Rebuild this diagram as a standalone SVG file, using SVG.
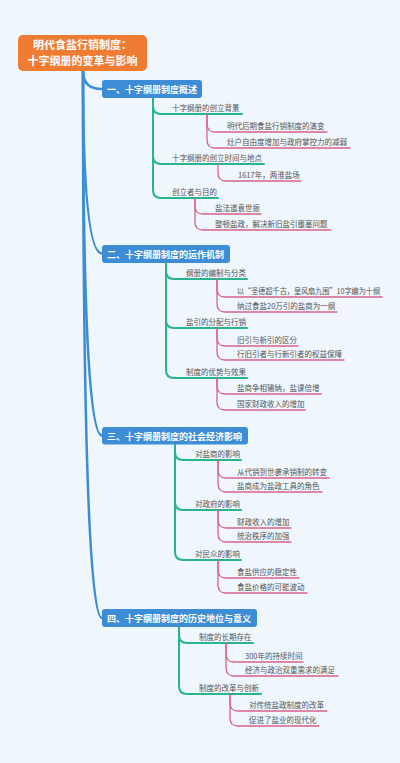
<svg xmlns="http://www.w3.org/2000/svg" width="400" height="763" viewBox="0 0 400 763">
<style>
.bg{fill:#eff6fc}
.root{fill:#f07c34}
.sec{fill:#3c8dd6}
.rt{font-family:"Noto Sans CJK SC","Noto Sans",sans-serif;font-size:11px;font-weight:bold;fill:#fff;text-anchor:middle}
.st{font-family:"Noto Sans CJK SC","Noto Sans",sans-serif;font-size:9px;font-weight:bold;fill:#fff}
.t{font-family:"Noto Sans CJK SC","Noto Sans",sans-serif;font-size:7.5px;fill:#555}
.b{fill:none;stroke:#3c8dd6;stroke-width:2.5;stroke-linecap:round}
.g{fill:none;stroke:#27b48f;stroke-width:2;stroke-linecap:round}
.p{fill:none;stroke:#d9628b;stroke-width:1.3;stroke-linecap:round}
</style>
<rect class="bg" x="0" y="0" width="400" height="763"/>
<g id="connectors">
<path class="b" d="M83 71 Q83 89 102 89"/>
<path class="b" d="M83 71 Q83 253.5 102 253.5"/>
<path class="b" d="M83 71 Q83 435.5 102 435.5"/>
<path class="b" d="M83 71 Q83 618 102 618"/>
<path class="g" d="M153 98 V106 Q153 114 161 114 H242"/>
<path class="g" d="M153 98 V156 Q153 164 161 164 H264"/>
<path class="g" d="M153 98 V190 Q153 198 161 198 H218"/>
<path class="p" d="M207 114 V124 Q207 132 215 132 H327"/>
<path class="p" d="M207 114 V140 Q207 148 215 148 H350"/>
<path class="p" d="M218 164 V173 Q218 181 226 181 H301"/>
<path class="p" d="M195 198 V206 Q195 214 203 214 H261"/>
<path class="p" d="M195 198 V222 Q195 230 203 230 H331"/>
<path class="g" d="M166 263 V271 Q166 279 174 279 H247"/>
<path class="g" d="M166 263 V320 Q166 328 174 328 H247"/>
<path class="g" d="M166 263 V370 Q166 378 174 378 H247"/>
<path class="p" d="M217 279 V289 Q217 297 225 297 H382"/>
<path class="p" d="M217 279 V304 Q217 312 225 312 H337"/>
<path class="p" d="M217 328 V338 Q217 346 225 346 H298"/>
<path class="p" d="M217 328 V352 Q217 360 225 360 H344"/>
<path class="p" d="M217 378 V386 Q217 394 225 394 H321"/>
<path class="p" d="M217 378 V402 Q217 410 225 410 H305"/>
<path class="g" d="M175 444 V452 Q175 460 183 460 H241"/>
<path class="g" d="M175 444 V502 Q175 510 183 510 H241"/>
<path class="g" d="M175 444 V552 Q175 560 183 560 H241"/>
<path class="p" d="M218 460 V470 Q218 478 226 478 H329"/>
<path class="p" d="M218 460 V484 Q218 492 226 492 H322"/>
<path class="p" d="M218 510 V520 Q218 528 226 528 H291"/>
<path class="p" d="M218 510 V534 Q218 542 226 542 H291"/>
<path class="p" d="M218 560 V570 Q218 578 226 578 H299"/>
<path class="p" d="M218 560 V585 Q218 593 226 593 H307"/>
<path class="g" d="M179 627 V635 Q179 643 187 643 H253"/>
<path class="g" d="M179 627 V686 Q179 694 187 694 H261"/>
<path class="p" d="M226 643 V654 Q226 662 234 662 H303"/>
<path class="p" d="M226 643 V668 Q226 676 234 676 H338"/>
<path class="p" d="M230 694 V703 Q230 711 238 711 H327"/>
<path class="p" d="M230 694 V718 Q230 726 238 726 H319"/>
</g>
<g id="root">
<rect class="root" x="18" y="35" width="129" height="36" rx="5"/>
<text class="rt" x="82.5" y="48.5">明代食盐行销制度：</text>
<text class="rt" x="82.5" y="64.5">十字纲册的变革与影响</text>
</g>
<g id="s1"><rect class="sec" x="102" y="80" width="100" height="18" rx="3"/><text class="st" x="107" y="92.5">一、十字纲册制度概述</text></g>
<g id="s2"><rect class="sec" x="102" y="245" width="128" height="18" rx="3"/><text class="st" x="107" y="257.5">二、十字纲册制度的运作机制</text></g>
<g id="s3"><rect class="sec" x="102" y="427" width="146" height="17.5" rx="3"/><text class="st" x="107" y="439.5">三、十字纲册制度的社会经济影响</text></g>
<g id="s4"><rect class="sec" x="102" y="609" width="155" height="18" rx="3"/><text class="st" x="107" y="621.5">四、十字纲册制度的历史地位与意义</text></g>
<g id="n1a"><text class="t" x="172" y="111">十字纲册的创立背景</text></g>
<g id="n1a1"><text class="t" x="227" y="129">明代后期食盐行销制度的演变</text></g>
<g id="n1a2"><text class="t" x="227" y="145">灶户自由度增加与政府掌控力的减弱</text></g>
<g id="n1b"><text class="t" x="172" y="161">十字纲册的创立时间与地点</text></g>
<g id="n1b1"><text class="t" x="238" y="178">1617年，两淮盐场</text></g>
<g id="n1c"><text class="t" x="172" y="195">创立者与目的</text></g>
<g id="n1c1"><text class="t" x="215" y="211">盐法道袁世振</text></g>
<g id="n1c2"><text class="t" x="215" y="227">整顿盐政，解决新旧盐引壅塞问题</text></g>
<g id="n2a"><text class="t" x="186" y="276">纲册的编制与分类</text></g>
<g id="n2a1"><text class="t" x="237" y="294" textLength="143" lengthAdjust="spacingAndGlyphs">以“圣德超千古，皇风扇九围”10字编为十纲</text></g>
<g id="n2a2"><text class="t" x="237" y="309">纳过食盐20万引的盐商为一纲</text></g>
<g id="n2b"><text class="t" x="186" y="325">盐引的分配与行销</text></g>
<g id="n2b1"><text class="t" x="237" y="343">旧引与新引的区分</text></g>
<g id="n2b2"><text class="t" x="237" y="357">行旧引者与行新引者的权益保障</text></g>
<g id="n2c"><text class="t" x="186" y="375">制度的优势与效果</text></g>
<g id="n2c1"><text class="t" x="237" y="391">盐商争相输纳，盐课倍增</text></g>
<g id="n2c2"><text class="t" x="237" y="407">国家财政收入的增加</text></g>
<g id="n3a"><text class="t" x="195" y="457">对盐商的影响</text></g>
<g id="n3a1"><text class="t" x="237" y="475">从代销到世袭承销制的转变</text></g>
<g id="n3a2"><text class="t" x="237" y="489">盐商成为盐政工具的角色</text></g>
<g id="n3b"><text class="t" x="195" y="507">对政府的影响</text></g>
<g id="n3b1"><text class="t" x="237" y="525">财政收入的增加</text></g>
<g id="n3b2"><text class="t" x="237" y="539">统治秩序的加强</text></g>
<g id="n3c"><text class="t" x="195" y="557">对民众的影响</text></g>
<g id="n3c1"><text class="t" x="237" y="575">食盐供应的稳定性</text></g>
<g id="n3c2"><text class="t" x="237" y="590">食盐价格的可能波动</text></g>
<g id="n4a"><text class="t" x="199" y="640">制度的长期存在</text></g>
<g id="n4a1"><text class="t" x="245" y="659">300年的持续时间</text></g>
<g id="n4a2"><text class="t" x="245" y="673">经济与政治双重需求的满足</text></g>
<g id="n4b"><text class="t" x="199" y="691">制度的改革与创新</text></g>
<g id="n4b1"><text class="t" x="249" y="708">对传统盐政制度的改革</text></g>
<g id="n4b2"><text class="t" x="249" y="723">促进了盐业的现代化</text></g>
</svg>
